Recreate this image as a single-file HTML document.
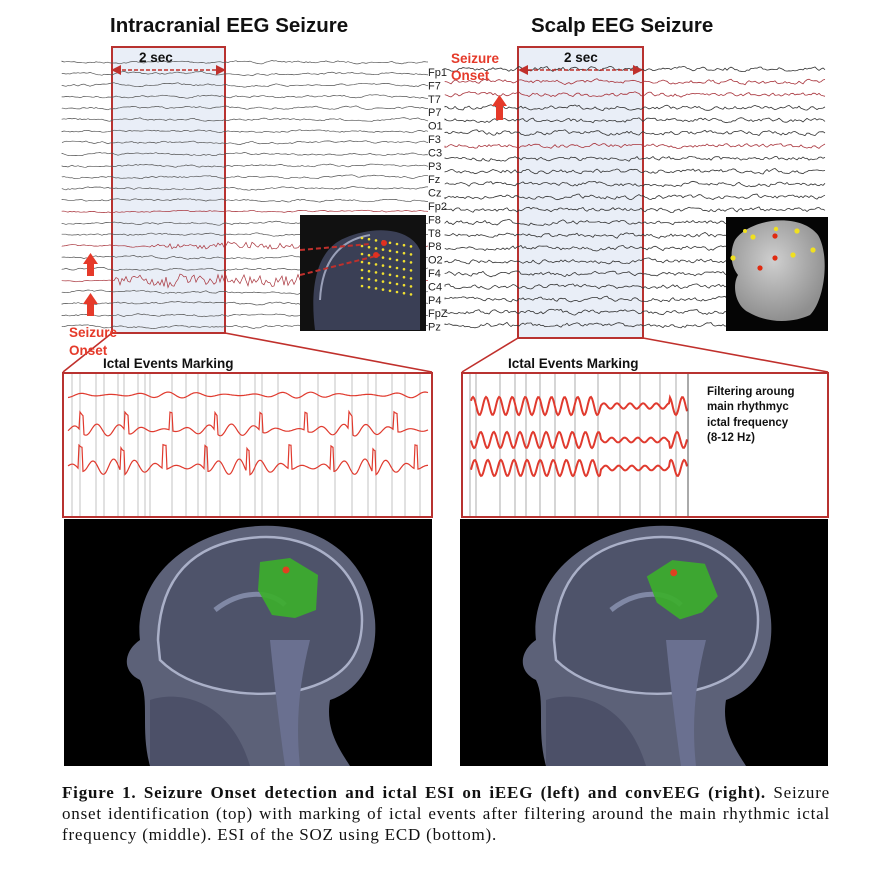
<!DOCTYPE html>
<html><head><meta charset="utf-8"><style>
body{margin:0;background:#fff;width:872px;height:886px;overflow:hidden;position:relative;font-family:"Liberation Sans",sans-serif}
svg{position:absolute;left:0;top:0}
.cap{position:absolute;left:62px;top:782px;width:768px;font-family:"Liberation Serif",serif;font-size:17px;line-height:21px;color:#111;letter-spacing:0.8px}
.cap div{white-space:nowrap}
.j{text-align:justify;text-align-last:justify;white-space:normal!important}
</style></head><body>
<svg id="s" width="872" height="886" xmlns="http://www.w3.org/2000/svg">
<defs>
<radialGradient id="hd" cx="45%" cy="40%" r="60%"><stop offset="0" stop-color="#cfcfcf"/><stop offset="1" stop-color="#8f8f8f"/></radialGradient>
</defs>
<text x="110" y="32" font-size="20.5" font-weight="bold" fill="#111">Intracranial EEG Seizure</text>
<text x="531" y="32" font-size="20.5" font-weight="bold" fill="#111">Scalp EEG Seizure</text>
<rect x="112" y="47" width="113" height="286" fill="#e9eef7" stroke="#b83230" stroke-width="2"/>
<rect x="518" y="47" width="125" height="291" fill="#e9eef7" stroke="#b83230" stroke-width="2"/>
<g id="traces"></g>
<g stroke="#c0302c" stroke-width="1.6" fill="none">
<line x1="112" y1="333" x2="63" y2="372"/><line x1="225" y1="333" x2="432" y2="372"/>
<line x1="518" y1="338" x2="462" y2="372"/><line x1="643" y1="338" x2="828" y2="372"/>
</g>
<g stroke="#c0302c" stroke-width="1.5" stroke-dasharray="4,2"><line x1="116" y1="70" x2="221" y2="70"/><line x1="522" y1="70" x2="639" y2="70"/></g>
<g fill="#c0302c"><polygon points="111,70 121,65 121,75"/><polygon points="226,70 216,65 216,75"/><polygon points="518,70 528,65 528,75"/><polygon points="643,70 633,65 633,75"/></g>
<text x="139" y="62" font-size="13.5" font-weight="bold" fill="#111">2 sec</text>
<text x="564" y="62" font-size="13.5" font-weight="bold" fill="#111">2 sec</text>
<g font-size="11" fill="#222" id="labs"></g>
<rect x="300" y="215" width="126" height="116" fill="#111"/>
<path d="M315,330 C310,290 315,250 345,238 C375,225 410,228 420,250 L420,330Z" fill="#3a3f55"/>
<path d="M320,300 C322,260 340,240 370,235" stroke="#9aa0b8" stroke-width="2" fill="none"/>
<g id="ydots" fill="#f0e030"></g>
<g stroke="#c0302c" stroke-width="2" stroke-dasharray="5,3"><line x1="300" y1="250" x2="370" y2="244"/><line x1="300" y1="275" x2="380" y2="255"/></g>
<circle cx="384" cy="243" r="3" fill="#e03020"/><circle cx="376" cy="255" r="3" fill="#e03020"/>
<rect x="726" y="217" width="102" height="114" fill="#050505"/>
<path d="M735,240 C750,218 800,212 818,235 C830,255 825,300 810,315 C795,322 770,325 748,312 C735,305 732,285 738,275 C730,265 730,250 735,240Z" fill="url(#hd)"/>
<g fill="#f0e020"><circle cx="753" cy="237" r="2.6"/><circle cx="797" cy="231" r="2.6"/><circle cx="813" cy="250" r="2.6"/><circle cx="793" cy="255" r="2.6"/><circle cx="733" cy="258" r="2.6"/><circle cx="776" cy="229" r="2.2"/><circle cx="745" cy="231" r="2"/></g>
<g fill="#e02a10"><circle cx="775" cy="236" r="2.6"/><circle cx="775" cy="258" r="2.6"/><circle cx="760" cy="268" r="2.6"/></g>
<text x="69" y="337" font-size="13.5" font-weight="bold" fill="#e53a2a">Seizure</text>
<text x="69" y="355" font-size="13.5" font-weight="bold" fill="#e53a2a">Onset</text>
<text x="451" y="63" font-size="13.5" font-weight="bold" fill="#e53a2a">Seizure</text>
<text x="451" y="80" font-size="13.5" font-weight="bold" fill="#e53a2a">Onset</text>
<g fill="#e53a2a">
<rect x="87" y="262" width="7" height="14"/><polygon points="83,264 90.5,253 98,264"/>
<rect x="87" y="302" width="7" height="14"/><polygon points="83,304 90.5,293 98,304"/>
<rect x="496" y="104" width="7" height="16"/><polygon points="492,106 499.5,95 507,106"/>
</g>
<text x="103" y="368" font-size="13.5" font-weight="bold" fill="#111">Ictal Events Marking</text>
<text x="508" y="368" font-size="13.5" font-weight="bold" fill="#111">Ictal Events Marking</text>
<rect x="63" y="373" width="369" height="144" fill="#fff" stroke="#b83230" stroke-width="2"/>
<rect x="462" y="373" width="366" height="144" fill="#fff" stroke="#b83230" stroke-width="2"/>
<g id="mid"></g>
<line x1="688" y1="374" x2="688" y2="516" stroke="#555" stroke-width="1"/>
<g font-size="11.5" font-weight="bold" fill="#111"><text x="707" y="395">Filtering aroung</text><text x="707" y="410">main rhythmyc</text><text x="707" y="426">ictal frequency</text><text x="707" y="441">(8-12 Hz)</text></g>
<g id="br"></g>
</svg>
<div class="cap"><div class="j"><b>Figure 1. Seizure Onset detection and ictal ESI on iEEG (left) and convEEG (right).</b> Seizure</div><div class="j">onset identification (top) with marking of ictal events after filtering around the main rhythmic ictal</div><div>frequency (middle). ESI of the SOZ using ECD (bottom).</div></div>
<script>
var seed=7;function r(){seed=(seed*16807)%2147483647;return seed/2147483647;}
var NS="http://www.w3.org/2000/svg";
function el(p,t,a){var e=document.createElementNS(NS,t);for(var k in a)e.setAttribute(k,a[k]);p.appendChild(e);return e;}
function trace(x0,x1,y,amp,col,w,burst,k){var d="M"+x0+","+y,v=0;for(var x=x0;x<=x1;x+=2){v=v*k+(r()-0.5)*amp;var b=0;if(burst&&x>burst[0]&&x<burst[1])b=(r()-0.5)*burst[2];d+=" L"+x.toFixed(1)+","+(y+v+b).toFixed(1);}el(document.getElementById("traces"),"path",{d:d,stroke:col,"stroke-width":w,fill:"none"});}
for(var i=0;i<24;i++){var y=62+i*11.5;var red=(i==13||i==16||i==19);trace(62,428,y,red?1.2:1.6,red?"#a8333b":"#555",0.7,i==16?[150,300,6]:(i==19?[115,300,12]:null),0.8);}
for(var i=0;i<21;i++){var y=69+i*12.8;var red=(i==1||i==2||i==6);trace(445,826,y,3.5,red?"#a8333b":"#333",0.8,null,0.6);}
var labs=["Fp1","F7","T7","P7","O1","F3","C3","P3","Fz","Cz","Fp2","F8","T8","P8","O2","F4","C4","P4","FpZ","Pz"];
var lg=document.getElementById("labs");labs.forEach(function(l,i){var t=el(lg,"text",{x:428,y:76+i*13.4});t.textContent=l;});
var yd=document.getElementById("ydots");for(var a=0;a<8;a++)for(var b=0;b<7;b++)el(yd,"circle",{cx:362+a*7,cy:238+b*8+a*1.2,r:1.3});
var mg=document.getElementById("mid");
[72,80,96,104,118,124,138,145,150,172,186,198,206,220,240,255,262,278,300,318,335,352,368,376,392,405,420].forEach(function(x){el(mg,"line",{x1:x,y1:374,x2:x,y2:516,stroke:"#aaa","stroke-width":0.7});});
[470,476,500,515,526,540,555,575,598,620,640,660,676].forEach(function(x){el(mg,"line",{x1:x,y1:374,x2:x,y2:516,stroke:"#888","stroke-width":0.7});});
function wave(x0,x1,y,f,amp,spk){var d="";for(var x=x0;x<=x1;x+=1){var a=amp*(0.6+0.4*Math.sin(x*0.05+y));var v=Math.sin(x*f+y)*a;if(spk&&Math.sin(x*f*0.5+y)>0.97)v-=amp*3;d+=(x==x0?"M":" L")+x+","+(y+v).toFixed(1);}el(mg,"path",{d:d,stroke:"#e03a2e","stroke-width":1.2,fill:"none"});}
wave(68,428,395,0.22,3,false);wave(68,428,430,0.28,6,true);wave(68,428,467,0.3,8,true);
function wave2(x0,x1,y,amp){var d="";for(var x=x0;x<=x1;x+=1){var a=amp*(x>600&&x<670?0.3:1);d+=(x==x0?"M":" L")+x+","+(y+Math.sin(x*0.48+y)*a).toFixed(1);}el(mg,"path",{d:d,stroke:"#e03a2e","stroke-width":2,fill:"none"});}
wave2(471,687,406,9);wave2(471,687,440,8);wave2(471,687,468,8);
var bg=document.getElementById("br");
function brain(ox,rot){var g=el(bg,"g",{transform:"translate("+ox+",0)"});
el(g,"rect",{x:64,y:519,width:368,height:247,fill:"#000"});
el(g,"path",{d:"M150,766 C140,730 150,700 140,680 C120,670 125,650 140,640 C135,600 160,545 240,528 C320,515 370,560 375,620 C378,660 360,690 330,700 C325,730 340,750 350,766Z",fill:"#5c6178"});
el(g,"path",{d:"M158,640 C160,580 190,545 250,538 C320,530 362,575 362,620 C362,660 340,680 300,690 C250,700 190,690 160,660Z",fill:"#4e536a",stroke:"#aab0c8","stroke-width":2.5});
el(g,"path",{d:"M215,610 C240,590 270,590 285,605",stroke:"#8088a5","stroke-width":5,fill:"none"});
el(g,"path",{d:"M270,640 C275,690 280,730 285,766 L300,766 C295,720 300,680 310,640Z",fill:"#6a7090"});
el(g,"path",{d:"M150,700 C180,690 230,700 250,766 L150,766Z",fill:"#4c5068"});
var gr=el(g,"g",{transform:"rotate("+rot+" 288 590)"});
el(gr,"polygon",{points:"260,562 290,558 318,575 316,610 295,618 272,615 258,590",fill:"#3cae2c",opacity:0.92});
el(gr,"circle",{cx:286,cy:570,r:3.5,fill:"#e04020"});}
brain(0,0);brain(396,-25);
</script>
</body></html>
